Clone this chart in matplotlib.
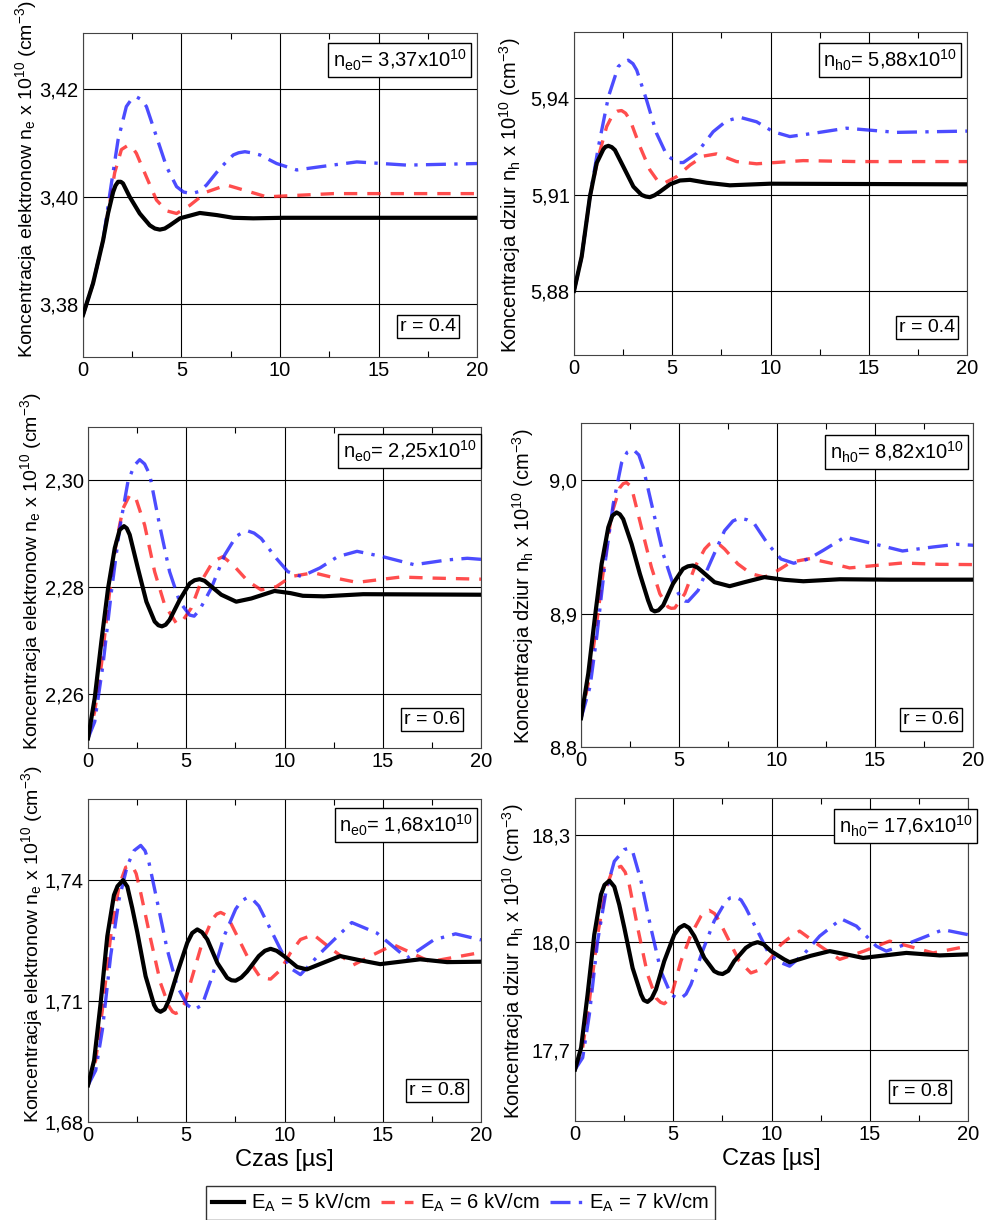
import matplotlib
matplotlib.use("Agg")
import matplotlib.pyplot as plt
from matplotlib.lines import Line2D
from matplotlib.ticker import FuncFormatter, MultipleLocator

plt.rcParams["font.family"] = ["Liberation Sans", "DejaVu Sans"]
plt.rcParams["mathtext.default"] = "regular"

# electrons, r = 0.4
ne04_t5 = [0, 0.51, 1.02, 1.27, 1.53, 1.65, 1.78, 1.92, 2.03, 2.37, 2.88, 3.39, 3.65, 3.90, 4.15, 4.41, 4.92, 5.93,
           6.8, 7.63, 8.64, 10.2, 20]
ne04_v5 = [3.3780, 3.3839, 3.3919, 3.3969, 3.4009, 3.4021, 3.4028, 3.4028, 3.4025, 3.4000, 3.3969, 3.3947, 3.3941,
           3.3939, 3.3941, 3.3947, 3.3960, 3.3970, 3.3966, 3.3961, 3.3960, 3.3961, 3.3961]
ne04_t6 = [0, 0.51, 1.02, 1.36, 1.61, 1.95, 2.29, 2.5, 2.71, 3.22, 3.73, 4.24, 4.75, 5.42, 6.27, 7.29, 8.31, 9.32,
           11.0, 12.7, 20]
ne04_v6 = [3.3780, 3.3839, 3.3919, 3.3990, 3.4045, 3.4088, 3.4096, 3.4092, 3.4081, 3.4037, 3.3994, 3.3974, 3.3969,
           3.3984, 3.4009, 3.4022, 3.4011, 3.4000, 3.4003, 3.4006, 3.4006]
ne04_t7 = [0, 0.51, 1.02, 1.36, 1.78, 2.20, 2.45, 2.71, 2.97, 3.22, 3.73, 4.24, 4.75, 5.1, 5.51, 5.9, 6.27, 6.95,
           7.63, 7.9, 8.22, 8.55, 8.98, 9.83, 10.85, 12.03, 13.9, 16.44, 20]
ne04_v7 = [3.3780, 3.3839, 3.3919, 3.4005, 3.4106, 3.4168, 3.4181, 3.4186, 3.4181, 3.4168, 3.4112, 3.4056, 3.4019,
           3.4009, 3.4006, 3.4010, 3.4022, 3.4053, 3.4078, 3.4082, 3.4084, 3.4082, 3.4078, 3.4062, 3.4050, 3.4056,
           3.4065, 3.4059, 3.4062]

# holes, r = 0.4
nh04_t5 = [0, 0.39, 0.81, 1.15, 1.49, 1.6, 1.75, 1.92, 2.08, 2.51, 3.02, 3.44, 3.65, 3.86, 4.1, 4.37, 4.88, 5.39,
           5.90, 6.75, 7.93, 9.97, 20]
nh04_v5 = [5.8800, 5.8907, 5.9094, 5.9198, 5.9241, 5.9249, 5.9252, 5.9248, 5.9239, 5.9187, 5.9125, 5.9099, 5.9094,
           5.9092, 5.9098, 5.9109, 5.9132, 5.9144, 5.9146, 5.9137, 5.9129, 5.9134, 5.9132]
nh04_t6 = [0, 0.39, 0.81, 1.24, 1.66, 2.0, 2.2, 2.42, 2.62, 2.85, 3.36, 3.86, 4.29, 4.63, 5.22, 5.90, 6.58, 7.25,
           8.27, 9.29, 11.66, 14.37, 20]
nh04_v6 = [5.8800, 5.8907, 5.9094, 5.9218, 5.9312, 5.9353, 5.9360, 5.9362, 5.9354, 5.9333, 5.9249, 5.9177, 5.9140,
           5.9137, 5.9156, 5.9192, 5.9220, 5.9227, 5.9203, 5.9196, 5.9206, 5.9203, 5.9203]
nh04_t7 = [0, 0.39, 0.81, 1.24, 1.75, 2.25, 2.5, 2.76, 3.0, 3.19, 3.69, 4.20, 4.71, 5.22, 5.56, 6.24, 7.08, 7.76,
           8.44, 9.29, 10.14, 10.98, 12.17, 13.86, 16.41, 20]
nh04_v7 = [5.8800, 5.8907, 5.9094, 5.9249, 5.9405, 5.9499, 5.9513, 5.9519, 5.9508, 5.9488, 5.9395, 5.9291, 5.9224,
           5.9200, 5.9200, 5.9229, 5.9296, 5.9330, 5.9341, 5.9327, 5.9296, 5.9281, 5.9291, 5.9307, 5.9294, 5.9298]

# electrons, r = 0.6
ne06_t5 = [0, 0.34, 0.68, 1.02, 1.36, 1.61, 1.83, 1.97, 2.12, 2.54, 2.97, 3.39, 3.58, 3.76, 3.95, 4.15, 4.66, 5.17,
           5.42, 5.68, 5.93, 6.19, 6.78, 7.54, 8.31, 9.49, 10.3, 10.93, 12, 14, 20]
ne06_v5 = [2.2518, 2.2593, 2.2699, 2.2798, 2.2873, 2.2907, 2.2914, 2.2910, 2.2898, 2.2835, 2.2773, 2.2736, 2.2729,
           2.2727, 2.2730, 2.2739, 2.2776, 2.2807, 2.2813, 2.2815, 2.2812, 2.2804, 2.2786, 2.2773, 2.2779, 2.2793,
           2.2789, 2.2784, 2.2783, 2.2787, 2.2786]
ne06_t6 = [0, 0.34, 0.68, 1.10, 1.44, 1.78, 2.12, 2.3, 2.46, 2.88, 3.39, 3.90, 4.49, 4.75, 5.25, 5.76, 6.36, 6.86,
           7.37, 8.14, 8.81, 9.58, 10.34, 11.48, 12.6, 13.69, 15.9, 17.6, 20]
ne06_v6 = [2.2518, 2.2568, 2.2655, 2.2792, 2.2885, 2.2947, 2.2972, 2.2971, 2.2963, 2.2916, 2.2829, 2.2767, 2.2733,
           2.2734, 2.2761, 2.2811, 2.2848, 2.2857, 2.2842, 2.2811, 2.2795, 2.2801, 2.2820, 2.2827, 2.2817, 2.2809,
           2.2819, 2.2817, 2.2815]
ne06_t7 = [0, 0.34, 0.76, 1.19, 1.61, 2.03, 2.35, 2.63, 2.88, 3.14, 3.64, 4.15, 4.66, 5.17, 5.4, 5.68, 6.27, 6.95,
           7.54, 7.85, 8.14, 8.45, 8.81, 9.58, 10.17, 10.85, 11.8, 12.7, 13.69, 15.0, 16.6, 18.3, 19.3, 20]
ne06_v7 = [2.2518, 2.2549, 2.2655, 2.2792, 2.2910, 2.2997, 2.3027, 2.3038, 2.3030, 2.3010, 2.2916, 2.2829, 2.2773,
           2.2748, 2.2746, 2.2758, 2.2798, 2.2860, 2.2895, 2.2902, 2.2905, 2.2901, 2.2891, 2.2854, 2.2829, 2.2820,
           2.2836, 2.2857, 2.2867, 2.2857, 2.2842, 2.2851, 2.2854, 2.2852]

# holes, r = 0.6
nh06_t5 = [0, 0.37, 0.71, 1.05, 1.39, 1.6, 1.81, 1.98, 2.15, 2.58, 3.0, 3.42, 3.6, 3.76, 3.95, 4.19, 4.69, 5.2,
           5.45, 5.71, 5.95, 6.22, 6.81, 7.58, 8.34, 9.36, 10.37, 11.34, 13.2, 15.76, 20]
nh06_v5 = [8.8216, 8.8552, 8.8975, 8.9373, 8.9647, 8.9735, 8.9759, 8.9745, 8.9709, 8.9522, 8.9299, 8.9100, 8.9030,
           8.9017, 8.9025, 8.9062, 8.9224, 8.9336, 8.9355, 8.9361, 8.9345, 8.9311, 8.9236, 8.9206, 8.9236, 8.9274,
           8.9254, 8.9243, 8.9258, 8.9255, 8.9255]
nh06_t6 = [0, 0.37, 0.71, 1.14, 1.56, 1.98, 2.15, 2.32, 2.5, 2.66, 3.08, 3.59, 4.02, 4.44, 4.6, 4.78, 5.29, 5.80,
           6.31, 6.55, 6.81, 7.05, 7.32, 8.0, 8.68, 9.36, 10.03, 10.71, 11.68, 12.7, 13.7, 16.4, 18.3, 20]
nh06_v6 = [8.8216, 8.8478, 8.8826, 8.9323, 8.9746, 8.9945, 8.9975, 8.9983, 8.9960, 8.9896, 8.9647, 8.9348, 8.9149,
           8.9050, 8.9040, 8.9042, 8.9149, 8.9348, 8.9485, 8.9522, 8.9535, 8.9520, 8.9485, 8.9373, 8.9299, 8.9274,
           8.9323, 8.9386, 8.9413, 8.9380, 8.9343, 8.9380, 8.9370, 8.9368]
nh06_t7 = [0, 0.46, 0.80, 1.22, 1.64, 2.07, 2.35, 2.66, 2.95, 3.17, 3.68, 4.19, 4.69, 5.12, 5.3, 5.46, 5.97, 6.64,
           7.32, 7.75, 8.08, 8.45, 8.85, 9.53, 10.2, 10.85, 11.6, 12.36, 13.46, 14.9, 16.4, 17.96, 19.15, 20]
nh06_v7 = [8.8216, 8.8453, 8.8826, 8.9373, 8.9821, 9.0132, 9.0210, 9.0231, 9.0190, 9.0095, 8.9771, 8.9448, 8.9224,
           8.9112, 8.9095, 8.9092, 8.9174, 8.9398, 8.9622, 8.9695, 8.9716, 8.9705, 8.9672, 8.9522, 8.9410, 8.9378,
           8.9410, 8.9475, 8.9575, 8.9525, 8.9470, 8.9500, 8.9520, 8.9513]

# electrons, r = 0.8
ne08_t5 = [0, 0.31, 0.64, 0.98, 1.32, 1.5, 1.78, 2.0, 2.25, 2.51, 2.93, 3.36, 3.5, 3.69, 3.9, 4.12, 4.54, 5.05, 5.3,
           5.56, 5.8, 6.07, 6.58, 7.08, 7.3, 7.51, 7.8, 8.1, 8.69, 9.0, 9.29, 9.6, 9.97, 10.64, 11.13, 12.0, 12.83,
           13.8, 14.87, 16.9, 18.27, 20]
ne08_v5 = [1.6891, 1.6953, 1.7094, 1.7260, 1.7362, 1.7384, 1.7399, 1.7383, 1.7330, 1.7269, 1.7161, 1.7090, 1.7078,
           1.7073, 1.7079, 1.7102, 1.7169, 1.7244, 1.7268, 1.7277, 1.7270, 1.7252, 1.7194, 1.7157, 1.7151, 1.7150,
           1.7158, 1.7173, 1.7211, 1.7224, 1.7229, 1.7224, 1.7211, 1.7184, 1.7178, 1.7195, 1.7211, 1.7201, 1.7191,
           1.7203, 1.7196, 1.7197]
ne08_t6 = [0, 0.39, 0.73, 1.15, 1.58, 1.92, 2.25, 2.45, 2.68, 3.19, 3.69, 4.12, 4.3, 4.46, 4.65, 4.88, 5.31, 5.81,
           6.32, 6.55, 6.75, 7.0, 7.25, 7.76, 8.27, 8.78, 9.29, 9.80, 10.3, 10.81, 11.47, 12.4, 13.5, 14.5, 15.55,
           16.5, 17.4, 20]
ne08_v6 = [1.6891, 1.6953, 1.7078, 1.7260, 1.7385, 1.7431, 1.7435, 1.7415, 1.7368, 1.7252, 1.7144, 1.7086, 1.7073,
           1.7069, 1.7073, 1.7090, 1.7161, 1.7244, 1.7302, 1.7315, 1.7319, 1.7313, 1.7294, 1.7244, 1.7194, 1.7157,
           1.7154, 1.7177, 1.7219, 1.7252, 1.7264, 1.7228, 1.7189, 1.7214, 1.7239, 1.7218, 1.7197, 1.7220]
ne08_t7 = [0, 0.39, 0.73, 1.15, 1.58, 2.0, 2.34, 2.68, 2.9, 3.10, 3.53, 4.03, 4.54, 5.05, 5.39, 5.81, 6.32, 6.92,
           7.51, 7.8, 8.10, 8.4, 8.69, 9.29, 9.80, 10.3, 10.81, 11.98, 13.42, 14.7, 16.23, 17.59, 18.7, 20]
ne08_v7 = [1.6891, 1.6928, 1.7028, 1.7211, 1.7352, 1.7435, 1.7472, 1.7485, 1.7472, 1.7443, 1.7344, 1.7227, 1.7136,
           1.7090, 1.7078, 1.7090, 1.7161, 1.7260, 1.7327, 1.7347, 1.7356, 1.7350, 1.7335, 1.7277, 1.7227, 1.7181,
           1.7165, 1.7226, 1.7294, 1.7268, 1.7206, 1.7251, 1.7266, 1.7251]

# holes, r = 0.8
nh08_t5 = [0, 0.31, 0.64, 0.98, 1.32, 1.5, 1.75, 2.0, 2.25, 2.51, 2.93, 3.36, 3.5, 3.69, 3.9, 4.12, 4.54, 5.05, 5.3,
           5.56, 5.8, 6.07, 6.58, 7.08, 7.3, 7.51, 7.8, 8.10, 8.69, 9.0, 9.29, 9.6, 9.97, 10.64, 10.92, 12.0, 12.96,
           13.8, 14.66, 16.86, 18.56, 20]
nh08_v5 = [17.644, 17.705, 17.854, 18.021, 18.133, 18.160, 18.172, 18.155, 18.105, 18.040, 17.928, 17.854, 17.838,
           17.833, 17.843, 17.868, 17.947, 18.021, 18.040, 18.048, 18.040, 18.017, 17.956, 17.919, 17.913, 17.911,
           17.920, 17.947, 17.984, 17.995, 18.000, 17.994, 17.975, 17.952, 17.944, 17.962, 17.975, 17.966, 17.956,
           17.970, 17.963, 17.966]
nh08_t6 = [0, 0.39, 0.73, 1.15, 1.58, 1.92, 2.34, 2.55, 2.76, 3.19, 3.69, 4.12, 4.35, 4.54, 4.75, 4.97, 5.39, 5.90,
           6.41, 6.6, 6.83, 7.1, 7.34, 7.85, 8.36, 8.95, 9.46, 9.97, 10.47, 10.9, 11.43, 12.45, 13.47, 14.7, 16.01,
           17.1, 18.22, 20]
nh08_v6 = [17.644, 17.705, 17.835, 18.021, 18.152, 18.203, 18.212, 18.196, 18.161, 18.040, 17.910, 17.844, 17.832,
           17.828, 17.838, 17.863, 17.947, 18.021, 18.073, 18.085, 18.089, 18.080, 18.059, 18.003, 17.947, 17.914,
           17.924, 17.956, 17.993, 18.012, 18.031, 17.990, 17.952, 17.975, 18.003, 17.987, 17.970, 17.989]
nh08_t7 = [0, 0.39, 0.73, 1.15, 1.58, 2.0, 2.51, 2.72, 2.93, 3.36, 3.86, 4.37, 4.88, 5.15, 5.39, 5.65, 5.90, 6.49,
           7.08, 7.68, 7.9, 8.19, 8.45, 8.69, 9.29, 9.88, 10.47, 10.92, 11.7, 12.45, 13.55, 14.32, 15.33, 15.84,
           17.03, 18.73, 20]
nh08_v7 = [17.644, 17.677, 17.798, 18.003, 18.143, 18.226, 18.259, 18.262, 18.254, 18.171, 18.040, 17.919, 17.854,
           17.845, 17.843, 17.855, 17.882, 17.975, 18.059, 18.115, 18.124, 18.126, 18.118, 18.096, 18.031, 17.966,
           17.943, 17.933, 17.970, 18.017, 18.065, 18.045, 17.989, 17.975, 17.998, 18.035, 18.021]

fields = ["5", "6", "7"]
ylabel_e = "Koncentracja elektronow n$_e$ x 10$^{10}$ (cm$^{-3}$)"
ylabel_h = "Koncentracja dziur n$_h$ x 10$^{10}$ (cm$^{-3}$)"

fig = plt.figure(figsize=(9.88, 12.2), dpi=100)

panels = [
    dict(rect=[0.0840, 0.7074, 0.3988, 0.2656], data=[(ne04_t5, ne04_v5), (ne04_t6, ne04_v6), (ne04_t7, ne04_v7)],
         ylim=(3.3702, 3.4305), yticks=[3.38, 3.40, 3.42], dec=2, ylabel=ylabel_e, lx=-0.112, ly=0.55, lsize=14,
         n0="n$_{e0}$= 3,37x10$^{10}$", n0_xy=(0.974, 0.955), r="r = 0.4", r_xy=(0.947, 0.069)),
    dict(rect=[0.5810, 0.7090, 0.3978, 0.2648], data=[(nh04_t5, nh04_v5), (nh04_t6, nh04_v6), (nh04_t7, nh04_v7)],
         ylim=(5.860, 5.9607), yticks=[5.88, 5.91, 5.94], dec=2, ylabel=ylabel_h, lx=-0.13, ly=0.495, lsize=14.5,
         n0="n$_{h0}$= 5,88x10$^{10}$", n0_xy=(0.974, 0.952), r="r = 0.4", r_xy=(0.970, 0.059)),
    dict(rect=[0.0891, 0.3869, 0.3978, 0.2631], data=[(ne06_t5, ne06_v5), (ne06_t6, ne06_v6), (ne06_t7, ne06_v7)],
         ylim=(2.25, 2.3099), yticks=[2.26, 2.28, 2.30], dec=2, ylabel=ylabel_e, lx=-0.112, ly=0.55, lsize=14,
         n0="n$_{e0}$= 2,25x10$^{10}$", n0_xy=(0.989, 0.964), r="r = 0.6", r_xy=(0.947, 0.062)),
    dict(rect=[0.5881, 0.3877, 0.3968, 0.2656], data=[(nh06_t5, nh06_v5), (nh06_t6, nh06_v6), (nh06_t7, nh06_v7)],
         ylim=(8.80, 9.043), yticks=[8.8, 8.9, 9.0], dec=1, ylabel=ylabel_h, lx=-0.115, ly=0.495, lsize=14.5,
         n0="n$_{h0}$= 8,82x10$^{10}$", n0_xy=(0.976, 0.949), r="r = 0.6", r_xy=(0.965, 0.058)),
    dict(rect=[0.0891, 0.0803, 0.3978, 0.2648], data=[(ne08_t5, ne08_v5), (ne08_t6, ne08_v6), (ne08_t7, ne08_v7)],
         ylim=(1.68, 1.76), yticks=[1.68, 1.71, 1.74], dec=2, ylabel=ylabel_e, lx=-0.11, ly=0.55, lsize=14,
         n0="n$_{e0}$= 1,68x10$^{10}$", n0_xy=(0.979, 0.958), r="r = 0.8", r_xy=(0.960, 0.071)),
    dict(rect=[0.5820, 0.0811, 0.3978, 0.2648], data=[(nh08_t5, nh08_v5), (nh08_t6, nh08_v6), (nh08_t7, nh08_v7)],
         ylim=(17.50, 18.403), yticks=[17.7, 18.0, 18.3], dec=1, ylabel=ylabel_h, lx=-0.125, ly=0.495, lsize=14.5,
         n0="n$_{h0}$= 17,6x10$^{10}$", n0_xy=(1.012, 0.952), r="r = 0.8", r_xy=(0.950, 0.065)),
]

styles = [
    dict(color="black", lw=3.0, ls="-", zorder=4),
    dict(color="#ff2020", lw=2.4, ls=(0, (4, 3)), alpha=0.8, zorder=3),
    dict(color="#1f1fff", lw=2.4, ls=(0, (6, 2.5, 1, 2.5)), alpha=0.8, zorder=3),
]

for i, p in enumerate(panels):
    ax = fig.add_axes(p["rect"])
    for (t, v), st in zip(p["data"], styles):
        ax.plot(t, v, solid_joinstyle="round", dash_joinstyle="round", **st)
    ax.set_xlim(0, 20)
    ax.set_ylim(*p["ylim"])
    ax.set_xticks([0, 5, 10, 15, 20])
    ax.xaxis.set_minor_locator(MultipleLocator(2.5))
    ax.set_yticks(p["yticks"])
    dec = p["dec"]
    ax.yaxis.set_major_formatter(FuncFormatter(lambda v, pos, d=dec: f"{v:.{d}f}".replace(".", ",")))
    ax.set_axisbelow(True)
    ax.grid(True, color="black", lw=0.8)
    ax.tick_params(which="both", direction="in", top=True, labelsize=14.5, pad=3)
    ax.tick_params(which="major", length=0)
    ax.tick_params(which="minor", length=4, width=0.8)
    for sp in ax.spines.values():
        sp.set_color("#444444")
        sp.set_linewidth(0.8)
    ax.set_ylabel(p["ylabel"], fontsize=p["lsize"])
    ax.yaxis.set_label_coords(p["lx"], p["ly"])
    if i >= 4:
        ax.set_xlabel("Czas [µs]", fontsize=17, labelpad=3)
    box_n = dict(boxstyle="square,pad=0.22", facecolor="white", edgecolor="black", lw=1.0)
    box_r = dict(boxstyle="square,pad=0.15", facecolor="white", edgecolor="black", lw=1.0)
    ax.text(*p["n0_xy"], p["n0"], transform=ax.transAxes, ha="right", va="top",
            fontsize=14.5, bbox=box_n, zorder=6, clip_on=False)
    ax.text(*p["r_xy"], p["r"], transform=ax.transAxes, ha="right", va="bottom",
            fontsize=14, bbox=box_r, zorder=6)

handles = [Line2D([], [], **{k: v for k, v in st.items() if k != "zorder"}) for st in styles]
labels = [f"E$_A$ = {f} kV/cm" for f in fields]
fig.legend(handles, labels, loc="upper left", bbox_to_anchor=(0.208, 1 - 1186 / 1220), ncol=3,
           fontsize=14.5, frameon=True, fancybox=False, edgecolor="black", borderpad=0.3,
           handlelength=1.6, handletextpad=0.35, columnspacing=0.5, borderaxespad=0)

fig.savefig("out.png", dpi=100)
